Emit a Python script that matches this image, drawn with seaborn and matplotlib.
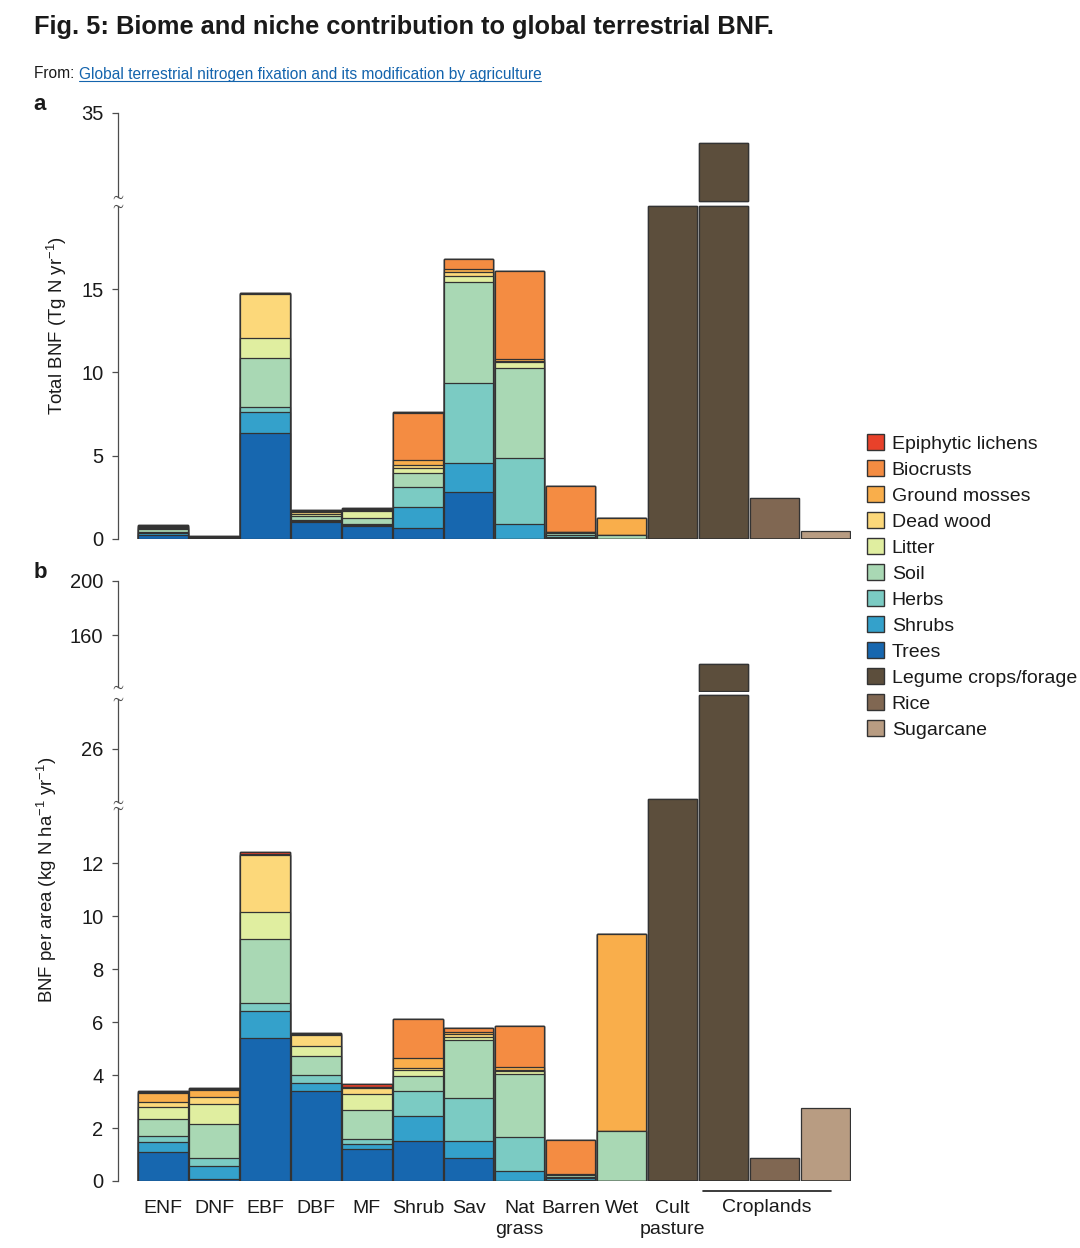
import numpy as np
import pandas as pd
import matplotlib
matplotlib.use('Agg')
import matplotlib.pyplot as plt
from matplotlib.patches import Patch
from matplotlib.lines import Line2D
from matplotlib.transforms import blended_transform_factory
import seaborn as sns

# ---- data ----
biomes = ['ENF', 'DNF', 'EBF', 'DBF', 'MF', 'Shrub', 'Sav', 'Nat grass', 'Barren', 'Wet']
ag_bars = ['Cult pasture', 'Crop legume', 'Crop rice', 'Crop sugarcane']
tick_labels = ['ENF', 'DNF', 'EBF', 'DBF', 'MF', 'Shrub', 'Sav', 'Nat\ngrass', 'Barren', 'Wet',
               'Cult\npasture', '', '', '']

niches = ['Trees', 'Shrubs', 'Herbs', 'Soil', 'Litter', 'Dead wood', 'Ground mosses',
          'Biocrusts', 'Epiphytic lichens']
crops = ['Legume crops/forage', 'Rice', 'Sugarcane']

colors = {
    'Epiphytic lichens': '#e8412a',
    'Biocrusts': '#f48c42',
    'Ground mosses': '#f9ae4b',
    'Dead wood': '#fcd87a',
    'Litter': '#e0eea0',
    'Soil': '#a9d8b4',
    'Herbs': '#7bcbc3',
    'Shrubs': '#34a1cb',
    'Trees': '#1767af',
    'Legume crops/forage': '#5c4e3c',
    'Rice': '#806752',
    'Sugarcane': '#b89c82',
}

# panel a: total BNF (Tg N yr-1), one value per natural biome
trees_a = [0.26, 0.01, 6.38, 1.04, 0.78, 0.64, 2.80, 0.02, 0.04, 0.00]
shrubs_a = [0.12, 0.02, 1.23, 0.04, 0.05, 1.26, 1.78, 0.86, 0.10, 0.00]
herbs_a = [0.05, 0.01, 0.34, 0.06, 0.07, 1.24, 4.81, 3.97, 0.08, 0.00]
soil_a = [0.17, 0.05, 2.94, 0.22, 0.38, 0.84, 6.06, 5.44, 0.16, 0.24]
litter_a = [0.07, 0.03, 1.18, 0.12, 0.40, 0.30, 0.35, 0.36, 0.02, 0.00]
deadwood_a = [0.04, 0.02, 2.63, 0.14, 0.07, 0.14, 0.24, 0.06, 0.00, 0.00]
mosses_a = [0.05, 0.01, 0.03, 0.05, 0.03, 0.30, 0.16, 0.10, 0.02, 1.04]
biocrusts_a = [0.01, 0.00, 0.02, 0.02, 0.01, 2.87, 0.60, 5.29, 2.76, 0.00]
lichens_a = [0.05, 0.01, 0.05, 0.07, 0.06, 0.01, 0.02, 0.00, 0.00, 0.00]
legume_a = [22.0, 31.6]   # cultivated pasture, croplands
rice_a = 2.44
sugarcane_a = 0.50

# panel b: BNF per area (kg N ha-1 yr-1)
trees_b = [1.08, 0.08, 5.40, 3.40, 1.20, 1.51, 0.86, 0.00, 0.03, 0.00]
shrubs_b = [0.40, 0.49, 1.00, 0.29, 0.20, 0.93, 0.65, 0.37, 0.07, 0.00]
herbs_b = [0.21, 0.31, 0.30, 0.31, 0.20, 0.96, 1.62, 1.28, 0.04, 0.00]
soil_b = [0.66, 1.27, 2.43, 0.73, 1.07, 0.57, 2.18, 2.38, 0.08, 1.89]
litter_b = [0.45, 0.74, 1.01, 0.38, 0.61, 0.22, 0.14, 0.13, 0.01, 0.00]
deadwood_b = [0.19, 0.29, 2.16, 0.40, 0.22, 0.09, 0.09, 0.03, 0.00, 0.00]
mosses_b = [0.34, 0.25, 0.02, 0.02, 0.03, 0.35, 0.10, 0.10, 0.02, 7.43]
biocrusts_b = [0.03, 0.03, 0.01, 0.01, 0.02, 1.48, 0.15, 1.55, 1.30, 0.00]
lichens_b = [0.05, 0.04, 0.07, 0.06, 0.10, 0.00, 0.00, 0.00, 0.00, 0.00]
legume_b = [20.6, 138.5]
rice_b = 0.85
sugarcane_b = 2.75


def make_table(nat, legume, rice, sugarcane):
    keys = biomes + ag_bars
    df = pd.DataFrame(0.0, index=keys, columns=niches + crops)
    for name, vals in zip(niches, nat):
        df.loc[biomes, name] = vals
    df.loc[['Cult pasture', 'Crop legume'], 'Legume crops/forage'] = legume
    df.loc['Crop rice', 'Rice'] = rice
    df.loc['Crop sugarcane', 'Sugarcane'] = sugarcane
    return df


tab_a = make_table([trees_a, shrubs_a, herbs_a, soil_a, litter_a, deadwood_a, mosses_a,
                    biocrusts_a, lichens_a], legume_a, rice_a, sugarcane_a)
tab_b = make_table([trees_b, shrubs_b, herbs_b, soil_b, litter_b, deadwood_b, mosses_b,
                    biocrusts_b, lichens_b], legume_b, rice_b, sugarcane_b)

# ---- style ----
sns.set_theme(style='white')
plt.rcParams['font.family'] = ['Liberation Sans', 'DejaVu Sans']
plt.rcParams['mathtext.default'] = 'regular'

W, H = 1080, 1248
fig = plt.figure(figsize=(W / 100, H / 100), dpi=100)
EDGE = '#333333'
AX_COL = '#4d4d4d'
TXT = '#1a1a1a'


def add_ax(top, bottom, left=118, right=851):
    return fig.add_axes([left / W, 1 - bottom / H, (right - left) / W, (bottom - top) / H])


def draw_stack(ax, table, cap=None, base=None):
    keys = list(table.index)
    cum = table.cumsum(axis=1)
    # draw from the top of the stack down so each layer covers the next one
    for col in reversed(table.columns):
        vals = cum[col]
        if cap is not None:
            vals = vals.clip(upper=cap)
        sns.barplot(x=keys, y=vals.values, order=keys, color=colors[col], saturation=1,
                    width=0.97, edgecolor=EDGE, linewidth=0.9, errorbar=None, ax=ax)
    if base is not None:
        for p in ax.patches:
            h = p.get_height()
            if h > base:
                p.set_y(base)
                p.set_height(h - base)


def style(ax, ylim, ticks, bounds, tildes):
    ax.set_xlim(-0.883, 13.5)
    ax.set_ylim(*ylim)
    ax.set_yticks(ticks)
    ax.set_xlabel('')
    ax.set_ylabel('')
    sns.despine(ax=ax, bottom=True)
    ax.spines['left'].set_bounds(*bounds)
    ax.spines['left'].set_color(AX_COL)
    ax.spines['left'].set_linewidth(0.9)
    ax.tick_params(axis='y', direction='out', length=4.5, width=0.9, color=AX_COL,
                   labelsize=14.5, pad=6, labelcolor=TXT, left=True)
    ax.tick_params(axis='x', length=0, labelbottom=False)
    ax.set_facecolor('none')
    # small "~" break marks at the cut ends of the axis line
    tr = blended_transform_factory(ax.transAxes, ax.transData)
    for y in tildes:
        ax.plot([0], [y], marker=r'$\sim$', markersize=7, color=AX_COL, transform=tr,
                clip_on=False, markeredgewidth=0)


# panel a (broken axis: 0-20 and 25-35)
ax_a_top = add_ax(113, 203)
draw_stack(ax_a_top, tab_a, base=25.0)
style(ax_a_top, (24.77, 35), [35], (25.45, 35), [25.45])

ax_a_low = add_ax(204, 539)
draw_stack(ax_a_low, tab_a, cap=20)
style(ax_a_low, (0, 20.12), [0, 5, 10, 15], (0, 20), [20])

# panel b (broken axis: 0-14, 20-32 and 118-200)
ax_b_top = add_ax(581, 692)
draw_stack(ax_b_top, tab_b, base=118.5)
style(ax_b_top, (117.78, 200), [160, 200], (121.5, 200), [121.5])

ax_b_mid = add_ax(693, 805)
draw_stack(ax_b_mid, tab_b, cap=31.79)
style(ax_b_mid, (20, 32.0), [26], (20.32, 31.36), [31.36, 20.32])

ax_b_low = add_ax(805, 1181)
draw_stack(ax_b_low, tab_b)
style(ax_b_low, (0, 14.19), [0, 2, 4, 6, 8, 10, 12], (0, 14.08), [14.08])
ax_b_low.set_xticks(range(len(tick_labels)))
ax_b_low.set_xticklabels(tick_labels, fontsize=14, color=TXT, linespacing=1.3)
ax_b_low.tick_params(axis='x', length=0, pad=14, labelbottom=True)

# croplands group label
trx = blended_transform_factory(ax_b_low.transData, ax_b_low.transAxes)
ax_b_low.add_line(Line2D([10.6, 13.11], [-10 / 376, -10 / 376], transform=trx,
                         color=TXT, lw=1.2, clip_on=False))
ax_b_low.text(11.85, -27 / 376, 'Croplands', transform=trx, ha='center', va='center',
              fontsize=14, color=TXT)

# axis titles and panel letters
fig.text(57 / W, 1 - 326 / H, r'Total BNF (Tg N yr$^{-1}$)', rotation=90, ha='center',
         va='center', fontsize=13.4, color=TXT)
fig.text(47 / W, 1 - 880 / H, r'BNF per area (kg N ha$^{-1}$ yr$^{-1}$)', rotation=90,
         ha='center', va='center', fontsize=13.4, color=TXT)
fig.text(40 / W, 1 - 105 / H, 'a', fontweight='bold', fontsize=16, ha='center', va='center',
         color=TXT)
fig.text(40 / W, 1 - 573 / H, 'b', fontweight='bold', fontsize=16, ha='center', va='center',
         color=TXT)

# legend
legend_keys = ['Epiphytic lichens', 'Biocrusts', 'Ground mosses', 'Dead wood', 'Litter', 'Soil',
               'Herbs', 'Shrubs', 'Trees', 'Legume crops/forage', 'Rice', 'Sugarcane']
handles = [Patch(facecolor=colors[k], edgecolor=EDGE, linewidth=1) for k in legend_keys]
fig.legend(handles, legend_keys, loc='upper left', bbox_to_anchor=(867 / W, 1 - 434 / H),
           frameon=False, fontsize=14, handlelength=0.87, handleheight=0.87,
           handletextpad=0.4, labelspacing=0.38, borderpad=0, borderaxespad=0,
           labelcolor=TXT)

# title block
title_font = ['Liberation Sans Narrow', 'Liberation Sans']
fig.text(34 / W, 1 - 27 / H, 'Fig. 5: Biome and niche contribution to global terrestrial BNF.',
         fontsize=18.3, fontweight='bold', family=title_font, va='center', color=TXT)
t1 = fig.text(34 / W, 1 - 74 / H, 'From: ', fontsize=11.2, family=title_font, va='center',
              color=TXT)
renderer = fig.canvas.get_renderer()
bb = t1.get_window_extent(renderer)
t2 = fig.text(bb.x1 / W, 1 - 74 / H,
              'Global terrestrial nitrogen fixation and its modification by agriculture',
              fontsize=11.2, family=title_font, va='center', color='#1464ad')
bb2 = t2.get_window_extent(renderer)
fig.add_artist(Line2D([bb2.x0 / W, bb2.x1 / W], [1 - 81 / H, 1 - 81 / H], color='#1464ad',
                      lw=0.8))

fig.savefig('out.png', dpi=100)
